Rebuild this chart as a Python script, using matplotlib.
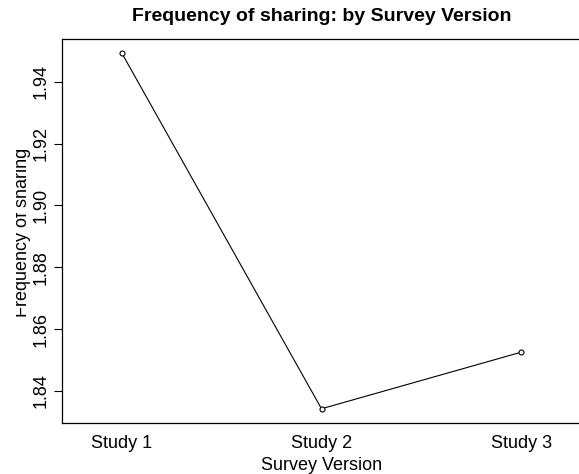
import matplotlib
matplotlib.use("Agg")
import matplotlib.pyplot as plt
from matplotlib.transforms import Bbox, TransformedBbox

plt.rcParams["font.family"] = ["Liberation Sans", "DejaVu Sans"]

# mean frequency of sharing per survey version
versions = ["Study 1", "Study 2", "Study 3"]
freq_sharing = [1.9492, 1.8342, 1.8525]
y_ticks = [1.84, 1.86, 1.88, 1.90, 1.92, 1.94]

x = list(range(1, len(versions) + 1))

fig = plt.figure(figsize=(5.79, 4.74), dpi=100)
W, H = 579, 474
ax = fig.add_axes([62 / W, 1 - 423 / H, (581 - 62) / W, (423 - 39) / H])

ax.plot(x, freq_sharing, color="black", linewidth=0.8,
        marker="o", markersize=3.6, markerfacecolor="white",
        markeredgecolor="black", markeredgewidth=0.8)

# R-style 4% padding around the data range
lo, hi = min(freq_sharing), max(freq_sharing)
pad = 0.04 * (hi - lo)
ax.set_ylim(lo - pad, hi + pad)
ax.set_xlim(0.7, 3.3)

ax.set_xticks(x)
ax.set_xticklabels(versions, fontsize=13)
ax.tick_params(axis="x", length=0, pad=9)
ax.set_yticks(y_ticks)
ax.set_yticklabels([f"{t:.2f}" for t in y_ticks], fontsize=13,
                   rotation=90, va="center")
ax.tick_params(axis="y", length=6, width=0.8, pad=3)

for s in ax.spines.values():
    s.set_linewidth(0.9)

ax.set_xlabel("Survey Version", fontsize=13, labelpad=3)
ax.set_title("Frequency of sharing: by Survey Version", fontsize=14,
             fontweight="bold", pad=13)

lab = fig.text(31 / W, 0.5 + (474 / 2 - 232) / H, "Frequency of sharing",
               fontsize=13, rotation=90, rotation_mode="anchor",
               ha="center", va="bottom")
lab.set_clip_box(TransformedBbox(Bbox([[16 / W, 0], [1, 1]]), fig.transFigure))
lab.set_clip_on(True)

fig.savefig("out.png", dpi=100)
